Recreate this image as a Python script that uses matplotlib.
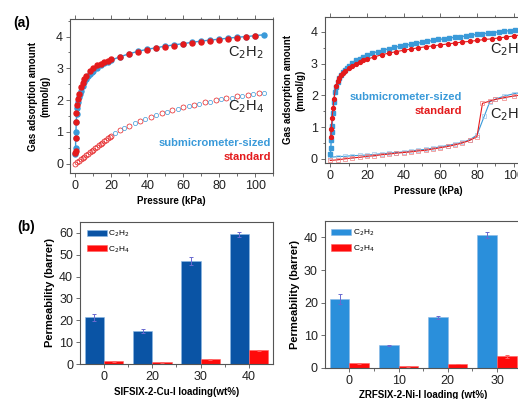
import numpy as np
import matplotlib
matplotlib.use('Agg')
import matplotlib.pyplot as plt
from matplotlib.ticker import MultipleLocator

plt.rcParams['font.family'] = ['Liberation Sans', 'DejaVu Sans']

#%% data, panel (a) left : SIFSIX-2-Cu-i
aL_c2h2_sub_p = [0.05, 0.1, 0.2, 0.3, 0.5, 0.7, 1.0, 1.5, 2, 2.5, 3, 4, 5, 6, 7, 8, 9, 10, 12, 14, 16, 18, 20,
                 25, 30, 35, 40, 45, 50, 55, 60, 65, 70, 75, 80, 85, 90, 95, 100, 105]
aL_c2h2_sub_q = [0.3, 0.5, 0.8, 1.0, 1.3, 1.55, 1.75, 1.95, 2.1, 2.2, 2.3, 2.45, 2.57, 2.67, 2.75, 2.82, 2.88, 2.93,
                 3.02, 3.1, 3.16, 3.21, 3.26, 3.37, 3.46, 3.54, 3.6, 3.65, 3.7, 3.74, 3.78, 3.82, 3.86, 3.89, 3.92,
                 3.95, 3.98, 4.0, 4.03, 4.06]
aL_c2h2_std_p = [0.05, 0.1, 0.2, 0.4, 0.6, 1, 1.5, 2, 3, 4, 5, 6, 8, 10, 12, 14, 16, 18, 20, 25, 30, 35, 40,
                 45, 50, 55, 60, 65, 70, 75, 80, 85, 90, 95, 100]
aL_c2h2_std_q = [0.35, 0.4, 0.8, 1.3, 1.6, 1.85, 2.05, 2.2, 2.4, 2.55, 2.67, 2.77, 2.92, 3.02, 3.1, 3.15, 3.2,
                 3.24, 3.28, 3.37, 3.45, 3.52, 3.58, 3.63, 3.68, 3.72, 3.76, 3.8, 3.84, 3.87, 3.9, 3.93, 3.96,
                 3.99, 4.02]
aL_c2h4_std_p = [0, 1, 2, 3, 4, 5, 6, 7, 8, 9, 10, 11, 12, 13, 14, 15, 16, 17, 18, 19, 20,
                 25, 30, 36, 42, 48, 54, 60, 66, 72, 78, 84, 90, 96, 102]
aL_c2h4_std_q = [0.0, 0.05, 0.09, 0.14, 0.18, 0.22, 0.27, 0.31, 0.36, 0.40, 0.44, 0.49, 0.53, 0.58, 0.62, 0.66,
                 0.71, 0.75, 0.80, 0.84, 0.88, 1.06, 1.2, 1.35, 1.48, 1.58, 1.68, 1.77, 1.85, 1.93, 2.0, 2.06,
                 2.12, 2.17, 2.22]
aL_c2h4_sub_p = [22, 27, 33, 39, 45, 51, 57, 63, 69, 75, 81, 87, 93, 99, 105]
aL_c2h4_sub_q = [0.95, 1.12, 1.28, 1.41, 1.52, 1.62, 1.72, 1.8, 1.88, 1.95, 2.02, 2.08, 2.14, 2.19, 2.24]

#%% data, panel (a) right : ZRFSIX-2-Ni-i
aR_c2h2_sub_p = [0.1, 0.3, 0.5, 0.8, 1, 1.5, 2, 2.5, 3, 4, 5, 6, 7, 8, 9, 10, 12, 14, 16, 18, 20, 23, 26, 29,
                 32, 35, 38, 41, 44, 47, 50, 53, 56, 59, 62, 65, 68, 71, 74, 77, 80, 83, 86, 89, 92, 95, 98,
                 101, 104]
aR_c2h2_sub_q = [0.15, 0.35, 0.6, 0.85, 1.05, 1.45, 1.8, 2.1, 2.25, 2.42, 2.55, 2.65, 2.73, 2.8, 2.86, 2.92,
                 3.02, 3.1, 3.16, 3.22, 3.27, 3.33, 3.38, 3.43, 3.47, 3.51, 3.55, 3.58, 3.61, 3.64, 3.67, 3.7,
                 3.73, 3.76, 3.78, 3.81, 3.83, 3.85, 3.87, 3.9, 3.92, 3.94, 3.96, 3.98, 4.0, 4.02, 4.04, 4.06,
                 4.08]
aR_c2h2_std_p = [0.3, 0.6, 1, 1.5, 2, 3, 4, 5, 6, 7, 8, 10, 12, 14, 16, 18, 20, 24, 28, 32, 36, 40, 44, 48,
                 52, 56, 60, 64, 68, 72, 76, 80, 84, 88, 92, 96, 100, 104]
aR_c2h2_std_q = [0.7, 0.95, 1.3, 1.6, 1.9, 2.3, 2.45, 2.55, 2.63, 2.7, 2.76, 2.86, 2.93, 3.0, 3.05, 3.1,
                 3.14, 3.21, 3.28, 3.33, 3.38, 3.42, 3.46, 3.5, 3.53, 3.56, 3.59, 3.62, 3.65, 3.68, 3.7,
                 3.73, 3.76, 3.78, 3.81, 3.84, 3.87, 3.91]
aR_c2h4_sub_p = [0, 4, 8, 12, 16, 20, 24, 28, 32, 36, 40, 44, 48, 52, 56, 60, 64, 68, 72, 76, 80, 84, 87,
                 90, 95, 100, 105]
aR_c2h4_sub_q = [0.05, 0.07, 0.08, 0.1, 0.11, 0.12, 0.14, 0.16, 0.18, 0.2, 0.22, 0.25, 0.28, 0.3, 0.34,
                 0.38, 0.42, 0.47, 0.52, 0.6, 0.75, 1.35, 1.8, 1.88, 1.98, 2.05, 2.1]
aR_c2h4_std_p = [0, 4, 8, 12, 16, 20, 24, 28, 32, 36, 40, 44, 48, 52, 56, 60, 64, 68, 72, 76, 80, 83, 87,
                 90, 95, 100, 105]
aR_c2h4_std_q = [-0.05, -0.03, 0.0, 0.03, 0.05, 0.08, 0.1, 0.13, 0.15, 0.18, 0.2, 0.22, 0.25, 0.27, 0.31,
                 0.35, 0.39, 0.44, 0.5, 0.58, 0.7, 1.75, 1.82, 1.87, 1.93, 1.98, 2.02]

#%% data, panel (b)
bL_loading = ['0', '20', '30', '40']
bL_c2h2 = [21.3, 15.0, 47.0, 59.3]
bL_c2h2_err = [1.5, 1.0, 1.8, 1.3]
bL_c2h4 = [1.3, 0.7, 2.2, 6.3]
bL_c2h4_err = [0.2, 0.2, 0.2, 0.3]

bR_loading = ['0', '10', '20', '30']
bR_c2h2 = [21.2, 7.0, 15.5, 40.8]
bR_c2h2_err = [1.5, 0.2, 0.5, 1.0]
bR_c2h4 = [1.4, 0.5, 1.2, 3.6]
bR_c2h4_err = [0.2, 0.2, 0.1, 0.4]

BLUE = '#3a9ad9'
RED = '#e41a1c'
SPINE = '#555555'

#%%

def styleAx(ax):
    for s in ax.spines.values():
        s.set_color(SPINE)
        s.set_linewidth(0.8)
    ax.tick_params(which='both', colors=SPINE, labelcolor='#222222', labelsize=9, width=0.6, pad=2)
    ax.tick_params(which='major', length=3)
    ax.tick_params(which='minor', length=1.8)


def isoAx(ax, ylim):
    styleAx(ax)
    ax.set_xlim(-3, 110)
    ax.set_ylim(*ylim)
    ax.xaxis.set_major_locator(MultipleLocator(20))
    ax.xaxis.set_minor_locator(MultipleLocator(10))
    ax.yaxis.set_major_locator(MultipleLocator(1))
    ax.yaxis.set_minor_locator(MultipleLocator(0.5))
    ax.tick_params(which='both', top=True)
    ax.set_xlabel('Pressure (kPa)', fontsize=7, fontweight='bold', labelpad=3)
    ax.set_ylabel('Gas adsorption amount\n(mmol/g)', fontsize=7, fontweight='bold', labelpad=4, linespacing=1.3)


def barAx(ax, labels, c2h2, e2, c2h4, e4, blue):
    styleAx(ax)
    x = np.arange(len(labels))
    ax.bar(x - 0.2, c2h2, 0.4, yerr=e2, color=blue, edgecolor='#8ab8e6', linewidth=0.4,
           error_kw=dict(ecolor='#6a6ad0', elinewidth=0.7, capsize=1.5, capthick=0.7), label='C$_2$H$_2$')
    ax.bar(x + 0.2, c2h4, 0.4, yerr=e4, color='#ff0a0a', edgecolor='#ff6060', linewidth=0.4,
           error_kw=dict(ecolor='#ff6060', elinewidth=0.7, capsize=1.5, capthick=0.7), label='C$_2$H$_4$')
    ax.set_xticks(x)
    ax.set_xticklabels(labels)
    ax.set_xticks(x[:-1] + 0.5, minor=True)
    ax.set_xlim(-0.5, 3.5)
    ax.set_ylabel('Permeability (barrer)', fontsize=8, fontweight='bold', labelpad=3)
    ax.legend(loc='upper left', fontsize=6, frameon=False, handlelength=2.4, handleheight=0.8,
              borderaxespad=0.4, labelspacing=0.6, handletextpad=0.2)


f = plt.figure(figsize=(5.18, 3.99), dpi=100)

#%% (a) left
ax = f.add_axes([0.1351, 0.566, 0.392, 0.386])
ax.plot(aL_c2h4_std_p, aL_c2h4_std_q, 'o', mfc='none', mec=RED, ms=3.6, mew=0.5)
ax.plot(aL_c2h4_sub_p, aL_c2h4_sub_q, 'o', mfc='none', mec=BLUE, ms=3.0, mew=0.5)
ax.plot(aL_c2h2_sub_p, aL_c2h2_sub_q, '-o', color=BLUE, mfc=BLUE, mec=BLUE, ms=3.6, lw=1.0)
ax.plot(aL_c2h2_std_p, aL_c2h2_std_q, 'o', color=RED, mfc=RED, mec=RED, ms=3.6)
isoAx(ax, (-0.3, 4.55))
ax.text(85, 3.5, 'C$_2$H$_2$', fontsize=10.5, va='center', color='#222222')
ax.text(85, 1.8, 'C$_2$H$_4$', fontsize=10.5, va='center', color='#222222')
ax.text(109, 0.66, 'submicrometer-sized', fontsize=8, fontweight='bold', color=BLUE, ha='right', va='center')
ax.text(109, 0.22, 'standard', fontsize=8, fontweight='bold', color=RED, ha='right', va='center')

#%% (a) right
ax = f.add_axes([0.627, 0.5915, 0.40, 0.366])
ax.plot(aR_c2h4_sub_p, aR_c2h4_sub_q, '-s', color=BLUE, mfc='none', mec='#9cc8ec', ms=3.4, mew=0.5, lw=0.8)
ax.plot(aR_c2h4_std_p, aR_c2h4_std_q, '-s', color=RED, mfc='none', mec='#f08080', ms=3.4, mew=0.5, lw=0.8)
ax.plot(aR_c2h2_sub_p, aR_c2h2_sub_q, '-s', color=BLUE, ms=2.8, lw=1.0)
ax.plot(aR_c2h2_std_p, aR_c2h2_std_q, '-o', color=RED, ms=2.8, lw=0.8)
isoAx(ax, (-0.13, 4.47))
ax.text(87, 3.45, 'C$_2$H$_2$', fontsize=10.5, va='center', color='#222222')
ax.text(87, 1.39, 'C$_2$H$_4$', fontsize=10.5, va='center', color='#222222')
ax.text(72, 1.95, 'submicrometer-sized', fontsize=8, fontweight='bold', color=BLUE, ha='right', va='center')
ax.text(72, 1.51, 'standard', fontsize=8, fontweight='bold', color=RED, ha='right', va='center')

#%% (b) left
ax = f.add_axes([0.1544, 0.0877, 0.3726, 0.356])
barAx(ax, bL_loading, bL_c2h2, bL_c2h2_err, bL_c2h4, bL_c2h4_err, '#0a54a5')
ax.set_ylim(0, 65)
ax.yaxis.set_major_locator(MultipleLocator(10))
ax.set_xlabel('SIFSIX-2-Cu-I loading(wt%)', fontsize=7, fontweight='bold', labelpad=3)

#%% (b) right
ax = f.add_axes([0.627, 0.0777, 0.38, 0.368])
barAx(ax, bR_loading, bR_c2h2, bR_c2h2_err, bR_c2h4, bR_c2h4_err, '#2a8fdb')
ax.set_ylim(0, 45)
ax.yaxis.set_major_locator(MultipleLocator(10))
ax.set_xlabel('ZRFSIX-2-Ni-I loading (wt%)', fontsize=7, fontweight='bold', labelpad=2)

f.text(0.025, 0.942, '(a)', fontsize=10, fontweight='bold', va='center')
f.text(0.033, 0.431, '(b)', fontsize=10, fontweight='bold', va='center')

f.savefig('out.png', dpi=100)
